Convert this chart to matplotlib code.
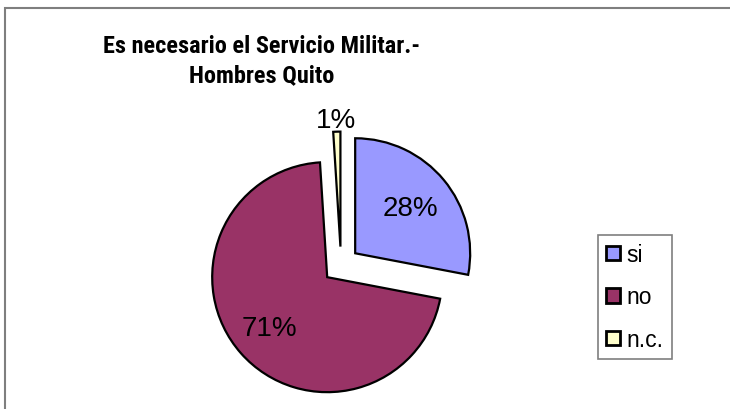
import matplotlib.pyplot as plt
import numpy as np
from matplotlib.patches import Rectangle

# data
labels = ["si", "no", "n.c."]
values = [28, 71, 1]
colors = ["#9999FF", "#993366", "#FFFFCC"]
title = "Es necesario el Servicio Militar.-\nHombres Quito"

W, H = 730, 410
fig = plt.figure(figsize=(W / 100, H / 100), dpi=100)
fig.patch.set_facecolor("white")

# outer chart frame (runs off right/bottom)
fig.patches.append(Rectangle((5 / W, -0.1), 2, 1 - 9 / H + 0.1, transform=fig.transFigure,
                             fill=False, edgecolor="#7f7f7f", linewidth=1.5))

ax = fig.add_axes([0, 0, 1, 1])
radius = 115
wedges, _ = ax.pie(values, colors=colors, startangle=90, counterclock=False,
                   explode=[0.16 * radius] * 3, radius=radius, center=(341, H - 266),
                   wedgeprops=dict(edgecolor="black", linewidth=1.6))
ax.set_xlim(0, W)
ax.set_ylim(0, H)
ax.set_aspect("equal")
ax.axis("off")

# percentage labels
dist = [0.62, 0.67, 1.1]
for w, v, f in zip(wedges, values, dist):
    th = np.deg2rad((w.theta1 + w.theta2) / 2)
    cx, cy = w.center
    ax.text(cx + f * w.r * np.cos(th), cy + f * w.r * np.sin(th), f"{v}%",
            ha="center", va="center", fontsize=20, family="Liberation Sans")

fig.text(262 / W, 1 - 61 / H, title, ha="center", va="center", fontsize=17.5,
         fontweight="bold", family=["Roboto Condensed", "Liberation Sans"],
         linespacing=1.3)

leg = ax.legend(wedges, labels, loc="upper left", bbox_to_anchor=(598 / W, 1 - 236 / H),
                bbox_transform=fig.transFigure, fancybox=False, framealpha=1,
                edgecolor="#7f7f7f", prop=dict(family="Liberation Sans", size=16.5),
                handlelength=0.6, handleheight=0.6, handletextpad=0.3,
                labelspacing=0.85, borderpad=0.35, borderaxespad=0)
leg.get_frame().set_linewidth(1.2)
for p in leg.get_patches():
    p.set_edgecolor("black")
    p.set_linewidth(2)

fig.savefig("out.png", dpi=100)
